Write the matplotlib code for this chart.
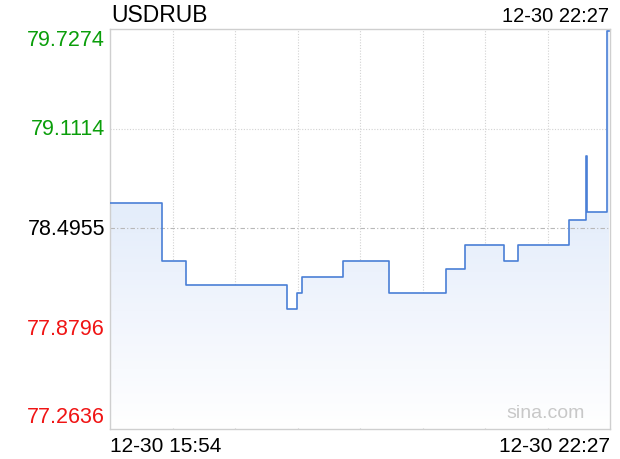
import matplotlib
matplotlib.use("Agg")
import matplotlib.pyplot as plt
import numpy as np
from matplotlib.colors import LinearSegmentedColormap

plt.rcParams["font.family"] = ["Liberation Sans", "DejaVu Sans"]

symbol = "USDRUB"
start_label = "12-30 15:54"
end_label = "12-30 22:27"
start_time = "15:54"
end_time = "22:27"

# price changes (time of change, new price)
change_times = ["15:54", "16:35", "16:54", "18:13", "18:21", "18:25", "18:57",
                "19:33", "20:18", "20:33", "21:04", "21:15", "21:55", "22:08",
                "22:09", "22:25", "22:26"]
prices = [78.650, 78.298, 78.148, 78.000, 78.098, 78.199, 78.298,
          78.098, 78.248, 78.396, 78.294, 78.394, 78.546, 78.944,
          78.595, 79.715, 79.715]

y_ticks = [79.7274, 79.1114, 78.4955, 77.8796, 77.2636]
y_tick_colors = ["#0a9e0a", "#0a9e0a", "#000000", "#f01414", "#f01414"]
prev_close = 78.4955


def to_min(s):
    h, m = s.split(":")
    return int(h) * 60 + int(m)


t0 = to_min(start_time)
t = np.array([to_min(s) - t0 for s in change_times], dtype=float)
p = np.array(prices)
t_end = to_min(end_time) - t0

W, H = 620, 460
fig = plt.figure(figsize=(W / 100, H / 100), dpi=100)
ax = fig.add_axes([110 / W, (H - 429.5) / H, 500 / W, 400 / H])
ax.set_xlim(0, t_end)
ax.set_ylim(y_ticks[-1], y_ticks[0])

# gradient fill under the line
xs = np.repeat(t, 2)[1:]
ys = np.repeat(p, 2)[:-1]
poly = ax.fill_between(xs, ys, y_ticks[-1], color="none", lw=0)
cmap = LinearSegmentedColormap.from_list("fade", ["#ffffff", "#f1f5fd", "#e2ecfa"])
grad = np.linspace(0, 1, 256).reshape(-1, 1)
img = ax.imshow(grad, cmap=cmap, aspect="auto", origin="lower",
                extent=[0, t_end, y_ticks[-1], 78.7], zorder=1)
img.set_clip_path(poly.get_paths()[0], transform=ax.transData)
ax.set_xlim(0, t_end)
ax.set_ylim(y_ticks[-1], y_ticks[0])
ax.fill_between(xs, np.minimum(ys, 80), 78.7, where=ys > 78.7,
                color="#e2ecfa", lw=0, zorder=1)

# grid
for i in range(1, 8):
    ax.axvline(t_end * i / 8, color="#d2d2d2", lw=0.8, ls=(0, (1, 1.5)), zorder=0)
for v in y_ticks[1:-1]:
    if v == prev_close:
        ax.axhline(v, color="#b8b8b8", lw=0.8, ls=(0, (4, 2, 1, 2)), zorder=2)
    else:
        ax.axhline(v, color="#d2d2d2", lw=0.8, ls=(0, (1, 1.5)), zorder=0)

ax.plot(t, p, drawstyle="steps-post", color="#4a7fd6", lw=1.2, zorder=3)

ax.set_xticks([])
ax.set_yticks([])
for s in ax.spines.values():
    s.set_color("#cfcfcf")
    s.set_linewidth(1.0)

# y labels
ytr = ax.get_yaxis_transform()
for i, (v, c) in enumerate(zip(y_ticks, y_tick_colors)):
    va = "top" if i == 0 else ("bottom" if i == len(y_ticks) - 1 else "center")
    off = -0.005 if i == 0 else (0.008 if i == len(y_ticks) - 1 else 0)
    ax.text(-0.01, v + off, f"{v:.4f}", transform=ytr, ha="right", va=va,
            color=c, fontsize=15.5)

fig.text(111 / W, 1 - 15 / H, symbol, ha="left", va="center", fontsize=16.5)
fig.text(609 / W, 1 - 17 / H, end_label, ha="right", va="center", fontsize=14.5)
fig.text(110 / W, 1 - 446.5 / H, start_label, ha="left", va="center", fontsize=15)
fig.text(610 / W, 1 - 446.5 / H, end_label, ha="right", va="center", fontsize=15)
fig.text(546 / W, 1 - 414 / H, "sina.com", ha="center", va="center",
         fontsize=14, color="#c8c8c8")

fig.savefig("out.png", dpi=100)
